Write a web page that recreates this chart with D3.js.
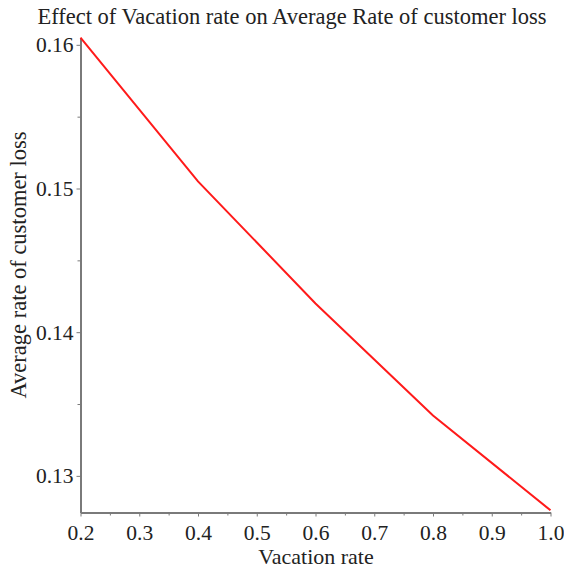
<!DOCTYPE html>
<html>
<head>
<meta charset="utf-8">
<script src="https://cdn.jsdelivr.net/npm/d3@7/dist/d3.min.js"></script>
<style>
  html, body { margin: 0; padding: 0; background: #fff; }
  svg { display: block; }
</style>
</head>
<body>
<script>
// Vacation rate vs. average rate of customer loss
const vacationRate = [0.2, 0.4, 0.6, 0.8, 1.0];
const lossRate = [0.1605, 0.1505, 0.1420, 0.1342, 0.1276];
const xTicks = [0.2, 0.3, 0.4, 0.5, 0.6, 0.7, 0.8, 0.9, 1.0];
const xMinorTicks = [0.25, 0.35, 0.45, 0.55, 0.65, 0.75, 0.85, 0.95];
const yTicks = [0.13, 0.14, 0.15, 0.16];
const yMinorTicks = [0.135, 0.145, 0.155];

const W = 564, H = 568;
const plotLeft = 80.5, plotRight = 550.5, plotTop = 37.5, plotBottom = 512.5;
const serif = "'Liberation Serif', 'Times New Roman', serif";

const svg = d3.select("body").append("svg")
  .attr("width", W).attr("height", H)
  .style("font-family", serif);

const x = d3.scaleLinear().domain([0.2, 1.0]).range([plotLeft, plotRight]);
const y = d3.scaleLinear().domain([0.12745, 0.16051]).range([plotBottom, plotTop]);

const axisColor = "#7a7a7a";
const textColor = "#222";

// x axis with minor ticks
const gx = svg.append("g").attr("transform", `translate(0,${plotBottom})`)
  .call(d3.axisBottom(x).tickValues(xTicks).tickFormat(d3.format(".1f")).tickSize(4).tickSizeOuter(0).tickPadding(8));
svg.append("g").attr("transform", `translate(0,${plotBottom})`)
  .call(d3.axisBottom(x).tickValues(xMinorTicks).tickFormat("").tickSize(3).tickSizeOuter(0))
  .call(g => g.select(".domain").remove());

// y axis with minor ticks
const gy = svg.append("g").attr("transform", `translate(${plotLeft},0)`)
  .call(d3.axisLeft(y).tickValues(yTicks).tickFormat(d3.format(".2f")).tickSize(4).tickSizeOuter(0).tickPadding(3));
svg.append("g").attr("transform", `translate(${plotLeft},0)`)
  .call(d3.axisLeft(y).tickValues(yMinorTicks).tickFormat("").tickSize(3).tickSizeOuter(0))
  .call(g => g.select(".domain").remove());

svg.selectAll(".domain").attr("stroke", axisColor).attr("stroke-width", 2);
svg.selectAll(".tick line").attr("stroke", axisColor).attr("stroke-width", 1);
svg.selectAll(".tick text")
  .attr("fill", textColor)
  .style("font-family", serif)
  .style("font-size", "21.5px");
gx.selectAll(".tick text").attr("dy", "0.7em");
gy.selectAll(".tick text").attr("dy", "0.33em");

// data line
const line = d3.line()
  .x((d, i) => x(vacationRate[i]))
  .y(d => y(d));
svg.append("path")
  .datum(lossRate)
  .attr("fill", "none")
  .attr("stroke", "#ff1a1a")
  .attr("stroke-width", 2)
  .attr("d", line);

// title and axis labels
svg.append("text")
  .attr("x", 292).attr("y", 24)
  .attr("text-anchor", "middle")
  .attr("fill", textColor)
  .style("font-size", "22.5px")
  .text("Effect of Vacation rate on Average Rate of customer loss");

svg.append("text")
  .attr("x", 316).attr("y", 564)
  .attr("text-anchor", "middle")
  .attr("fill", textColor)
  .style("font-size", "22px")
  .text("Vacation rate");

svg.append("text")
  .attr("transform", `translate(26,265) rotate(-90)`)
  .attr("text-anchor", "middle")
  .attr("fill", textColor)
  .style("font-size", "22.5px")
  .text("Average rate of customer loss");
</script>
</body>
</html>
